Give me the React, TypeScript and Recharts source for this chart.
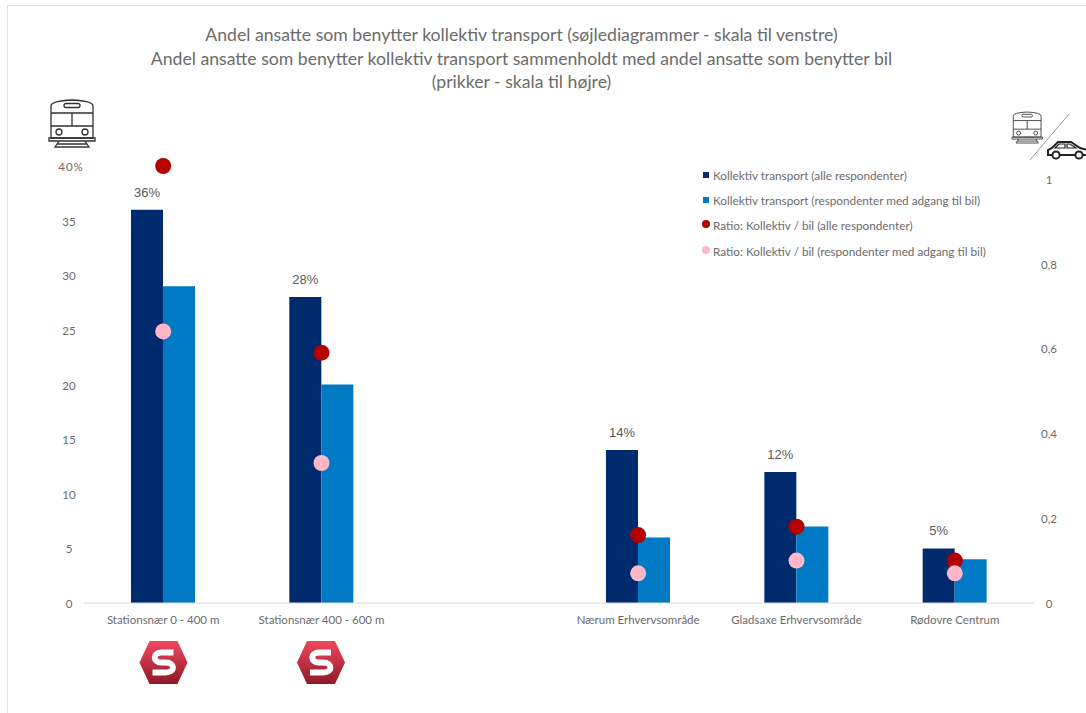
import {
  ComposedChart,
  Bar,
  Line,
  XAxis,
  YAxis,
  LabelList,
  Legend,
} from "recharts";

const categories = [
  "Stationsnær 0 - 400 m",
  "Stationsnær 400 - 600 m",
  "",
  "Nærum Erhvervsområde",
  "Gladsaxe Erhvervsområde",
  "Rødovre Centrum",
];

const sharesAll = [36, 28, null, 14, 12, 5];
const sharesWithCar = [29, 20, null, 6, 7, 4];
const ratioAll = [1.03, 0.59, null, 0.16, 0.18, 0.1];
const ratioWithCar = [0.64, 0.33, null, 0.07, 0.1, 0.07];

const leftTicks = [0, 5, 10, 15, 20, 25, 30, 35, 40];
const rightTicks = [0, 0.2, 0.4, 0.6, 0.8, 1];

const titleLines = [
  "Andel ansatte som benytter kollektiv transport (søjlediagrammer - skala til venstre)",
  "Andel ansatte som benytter kollektiv transport sammenholdt med andel ansatte som benytter bil",
  "(prikker - skala til højre)",
];

const NAVY = "#002a6e";
const BLUE = "#007ac4";
const RED = "#b50000";
const PINK = "#ffb6c8";
const GREY = "#6b6b6b";
const FRAME = "#e0e0e0";
const FONT = "Lato, sans-serif";

const rows = categories.map((name, i) => ({
  name,
  sharesAll: sharesAll[i],
  sharesWithCar: sharesWithCar[i],
  ratioAll: ratioAll[i],
  ratioWithCar: ratioWithCar[i],
}));

// left scale is centred under the train icon
function LeftTick({ y, payload }: any) {
  const top = payload.value === 40;
  return (
    <text x={top ? 71 : 69} y={y + 5} textAnchor="middle" fontSize={11.5} fill={GREY} fontFamily={FONT} letterSpacing={top ? 1 : 0}>
      {top ? "40%" : payload.value}
    </text>
  );
}

function RightTick({ y, payload }: any) {
  return (
    <text x={1049} y={y + 5} textAnchor="middle" fontSize={11.5} fill={GREY} fontFamily={FONT}>
      {String(payload.value).replace(".", ",")}
    </text>
  );
}

function LegendBox({ payload }: any) {
  return (
    <div style={{ fontFamily: FONT, fontSize: 11.75, color: GREY }}>
      {payload.map((item: any) => {
        const round = item.type === "circle";
        return (
          <div key={item.value} style={{ height: 25.2, display: "flex", alignItems: "center", whiteSpace: "nowrap" }}>
            <span
              style={{
                width: round ? 8 : 6,
                height: round ? 8 : 6,
                marginRight: round ? 3 : 4,
                marginLeft: round ? 0 : 1,
                marginTop: round ? -3 : -1,
                borderRadius: round ? "50%" : 0,
                background: item.color,
              }}
            />
            {item.value}
          </div>
        );
      })}
    </div>
  );
}

function TrainIcon({ x, y, scale }: { x: number; y: number; scale: number }) {
  return (
    <g transform={`translate(${x} ${y}) scale(${scale})`} fill="none" stroke="#333" strokeWidth={1.3}>
      <path d="M2 6 Q2 1 23 0 Q44 1 44 6 V38 H2 Z" />
      <rect x={15} y={3.5} width={16} height={4} rx={2} />
      <path d="M2 13 H44 M2 26 H44 M23 13 V26 M0 38 H46 V41 H0 Z" />
      <circle cx={10} cy={32} r={3} />
      <circle cx={36} cy={32} r={3} />
      <path d="M10 41 L6 47 H40 L36 41 M8 44 H38" />
    </g>
  );
}

function CarIcon({ x, y }: { x: number; y: number }) {
  return (
    <g transform={`translate(${x} ${y})`} fill="none" stroke="#222" strokeWidth={2}>
      <path d="M1 14 V9 L5 7 L11 1 H24 L33 7 L41 9 V14 H1 Z" />
      <path d="M8 7 L12 3 H18 V7 Z M20 3 H23 L29 7 H20 Z" strokeWidth={1.2} />
      <circle cx={9} cy={14} r={3.6} fill="#fff" />
      <circle cx={32} cy={14} r={3.6} fill="#fff" />
    </g>
  );
}

function StationBadge({ cx, id }: { cx: number; id: string }) {
  return (
    <g transform={`translate(${cx} 662.5)`}>
      <defs>
        <linearGradient id={id} x1="0" y1="0" x2="0" y2="1">
          <stop offset="0%" stopColor="#f0485f" />
          <stop offset="100%" stopColor="#8f1a28" />
        </linearGradient>
      </defs>
      <path d="M-14 -21.5 H14 L24 0 L14 21.5 H-14 L-24 0 Z" fill={`url(#${id})`} />
      <path
        d="M10 -10 H-2 C-11 -10 -11 0 -2 0 H2 C12 0 12 10 2 10 H-11"
        fill="none"
        stroke="#fff"
        strokeWidth={6}
      />
    </g>
  );
}

export default function App() {
  return (
    <div style={{ position: "absolute", left: 0, top: 0, width: 1086, height: 713, overflow: "hidden", background: "#fff" }}>
      <div style={{ position: "absolute", left: 7, top: 5, width: 1079, height: 708, borderLeft: `1.5px solid ${FRAME}`, borderTop: `1.5px solid ${FRAME}`, boxSizing: "border-box" }} />

      <div style={{ position: "absolute", left: 0, top: 23, width: 1043, textAlign: "center", fontFamily: FONT, fontSize: 17.65, lineHeight: "23.5px", color: GREY }}>
        {titleLines.map((line) => (
          <div key={line}>{line}</div>
        ))}
      </div>

      <ComposedChart
        width={1086}
        height={713}
        data={rows}
        margin={{ top: 166, right: 0, bottom: 80, left: 0 }}
        barSize={32}
        barGap={0}
        style={{ position: "absolute", left: 0, top: 0 }}
      >
        <XAxis
          dataKey="name"
          height={30}
          interval={0}
          tickLine={false}
          axisLine={{ stroke: "#d9d9d9" }}
          tick={{ fontSize: 11.5, fill: GREY, fontFamily: FONT }}
          tickMargin={7}
        />
        <YAxis
          yAxisId="left"
          domain={[0, 40]}
          ticks={leftTicks}
          axisLine={false}
          tickLine={false}
          width={84}
          tick={<LeftTick />}
        />
        <YAxis
          yAxisId="right"
          orientation="right"
          domain={[0, 1.03]}
          ticks={rightTicks}
          axisLine={false}
          tickLine={false}
          width={52}
          tick={<RightTick />}
        />
        <Legend
          layout="vertical"
          verticalAlign="middle"
          align="center"
          wrapperStyle={{ left: 702, top: 163, width: 320, bottom: "auto", right: "auto" }}
          content={<LegendBox />}
        />
        <Bar
          yAxisId="left"
          dataKey="sharesAll"
          name="Kollektiv transport (alle respondenter)"
          fill={NAVY}
          legendType="square"
          isAnimationActive={false}
        >
          <LabelList
            dataKey="sharesAll"
            position="top"
            offset={13}
            formatter={(v: any) => (v == null ? "" : `${v}%`)}
            style={{ fontSize: 13, fill: "#595959", fontFamily: "'Liberation Sans', sans-serif" }}
          />
        </Bar>
        <Bar
          yAxisId="left"
          dataKey="sharesWithCar"
          name="Kollektiv transport (respondenter med adgang til bil)"
          fill={BLUE}
          legendType="square"
          isAnimationActive={false}
        />
        <Line
          yAxisId="right"
          dataKey="ratioAll"
          name="Ratio: Kollektiv / bil (alle respondenter)"
          stroke={RED}
          strokeWidth={0}
          legendType="circle"
          dot={{ r: 8, fill: RED, stroke: "none" }}
          activeDot={false}
          isAnimationActive={false}
        />
        <Line
          yAxisId="right"
          dataKey="ratioWithCar"
          name="Ratio: Kollektiv / bil (respondenter med adgang til bil)"
          stroke={PINK}
          strokeWidth={0}
          legendType="circle"
          dot={{ r: 8, fill: PINK, stroke: "none" }}
          activeDot={false}
          isAnimationActive={false}
        />
      </ComposedChart>

      <svg width={1086} height={713} style={{ position: "absolute", left: 0, top: 0, pointerEvents: "none" }}>
        <TrainIcon x={49} y={100} scale={1} />
        <TrainIcon x={1012} y={112} scale={0.66} />
        <line x1={1069} y1={114} x2={1030} y2={160} stroke="#999" strokeWidth={1} />
        <CarIcon x={1047} y={141} />
        <StationBadge cx={163.5} id="badge-a" />
        <StationBadge cx={321} id="badge-b" />
      </svg>
    </div>
  );
}
